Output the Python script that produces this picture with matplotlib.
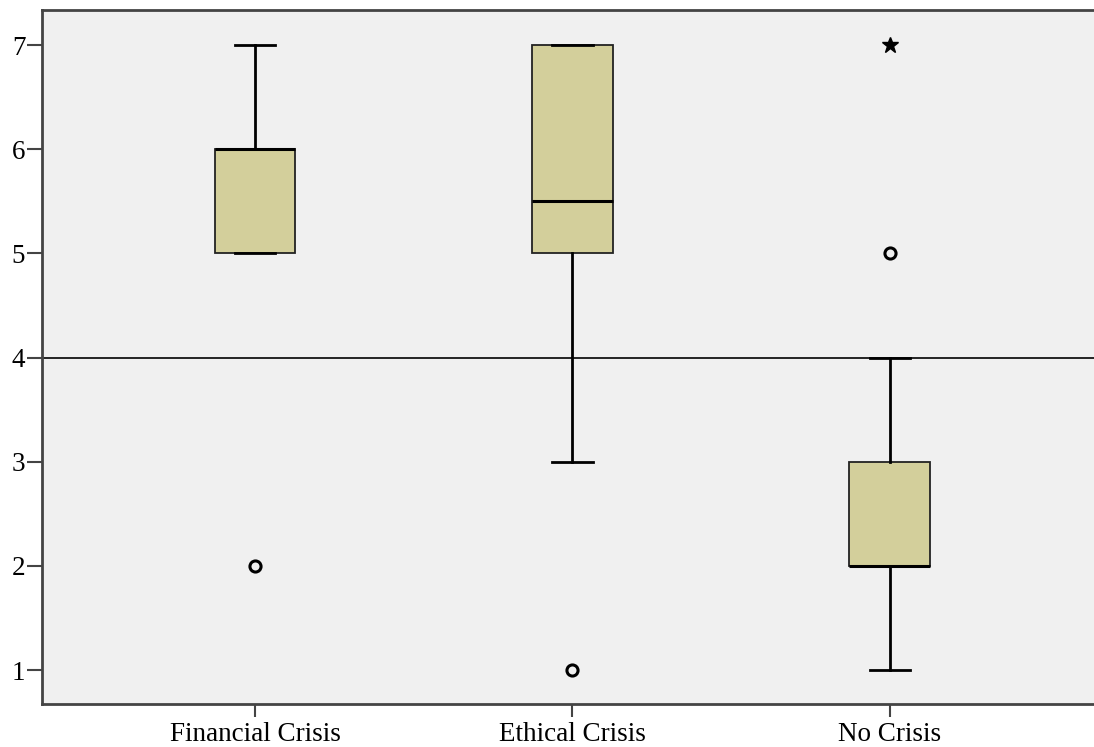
import matplotlib.pyplot as plt

plt.rcParams['font.family'] = ['Liberation Serif', 'DejaVu Serif']

categories = ['Financial Crisis', 'Ethical Crisis', 'No Crisis']
q1 = [5, 5, 2]
medians = [6, 5.5, 2]
q3 = [6, 7, 3]
whisker_low = [5, 3, 1]
whisker_high = [7, 7, 4]
outliers = [[2], [1], [5]]      # circles
extremes = [[], [], [7]]        # stars
ref_value = 4

stats = []
for i, name in enumerate(categories):
    stats.append({
        'label': name,
        'q1': q1[i], 'med': medians[i], 'q3': q3[i],
        'whislo': whisker_low[i], 'whishi': whisker_high[i],
        'fliers': outliers[i],
    })

fig = plt.figure(figsize=(10.94, 7.47), dpi=100)
ax = fig.add_axes([42 / 1094, 1 - 704 / 747, 1 - 42 / 1094, (704 - 10) / 747])
ax.set_facecolor('#f0f0f0')

pos = [1, 2, 3]
ax.axhline(ref_value, color='black', lw=1.2, zorder=1)
ax.bxp(stats, positions=pos, widths=0.255, patch_artist=True,
       boxprops=dict(facecolor='#d3cf9b', edgecolor='#222222', lw=1.3),
       medianprops=dict(color='black', lw=2.2),
       whiskerprops=dict(color='black', lw=2),
       capprops=dict(color='black', lw=2),
       capwidths=0.127,
       flierprops=dict(marker='o', markersize=8, markerfacecolor='none',
                       markeredgecolor='black', markeredgewidth=2.2),
       zorder=2)
for i, vals in enumerate(extremes):
    ax.plot([pos[i]] * len(vals), vals, marker='*', ls='none', color='black',
            markersize=12, zorder=3)

ax.set_xlim(0.329, 3.643)
ax.set_ylim(0.674, 7.336)
ax.set_yticks([1, 2, 3, 4, 5, 6, 7])
ax.set_xticks(pos)
ax.set_xticklabels(categories)
ax.tick_params(labelsize=19.5, width=1.5, color='#444444')
ax.tick_params(axis='y', length=11, pad=1)
ax.tick_params(axis='x', length=9, pad=4)
for side in ['left', 'bottom', 'top']:
    ax.spines[side].set_color('#444444')
    ax.spines[side].set_linewidth(2)
ax.spines['right'].set_visible(False)

fig.savefig('out.png', dpi=100)
